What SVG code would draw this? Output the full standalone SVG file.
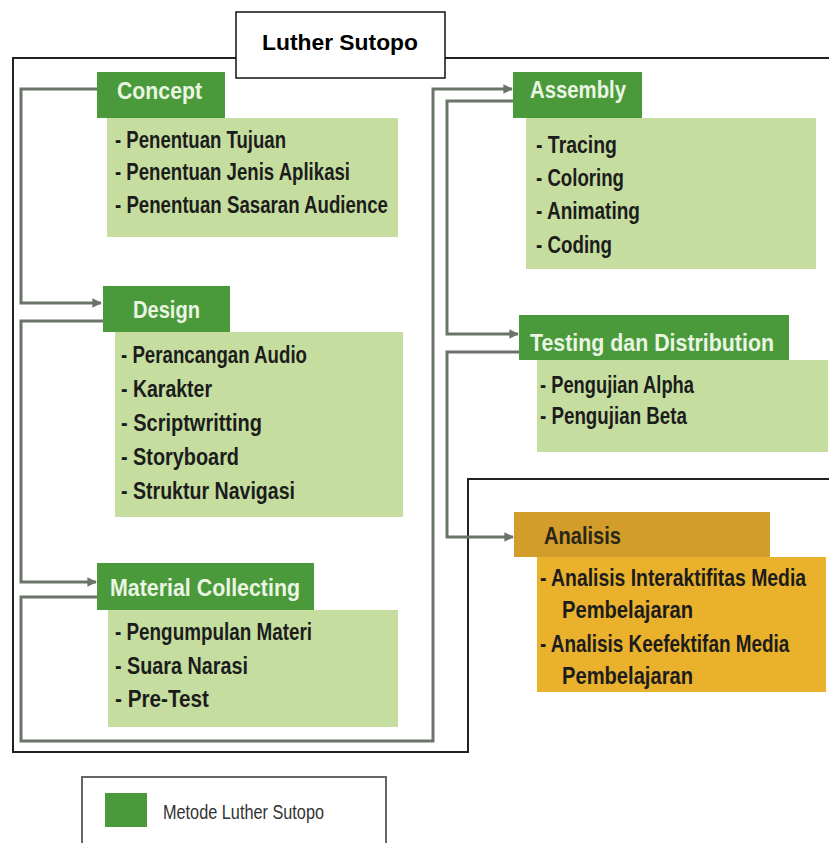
<svg xmlns="http://www.w3.org/2000/svg" width="829" height="843" viewBox="0 0 829 843">
<defs>
<marker id="arr" viewBox="0 0 10 10" refX="9" refY="5" markerWidth="3.2" markerHeight="3.2" orient="auto" markerUnits="strokeWidth">
<path d="M0,0 L10,5 L0,10 z" fill="#6a7468"/>
</marker>
<style>
.hd{fill:#4a9a3c}
.bd{fill:#c5de9f}
.ht{font-family:"Liberation Sans",Arial,sans-serif;font-weight:bold;font-size:24px;fill:#eaf5e2}
.bt{font-family:"Liberation Sans",Arial,sans-serif;font-weight:bold;font-size:23px;fill:#1c1c1c}
.con{fill:none;stroke:#6a7468;stroke-width:3}
.frame{fill:none;stroke:#222;stroke-width:2}
</style>
</defs>
<rect width="829" height="843" fill="#fff"/>
<path class="frame" d="M829,58 H13 V752 H468 V479 H829"/>
<g id="title">
<rect x="236" y="12" width="209" height="66" fill="#fff" stroke="#111" stroke-width="1.5"/>
<text x="340" y="50" text-anchor="middle" style="font-family:'Liberation Sans',Arial,sans-serif;font-weight:bold;font-size:22px;fill:#000" textLength="156" lengthAdjust="spacingAndGlyphs">Luther Sutopo</text>
</g>
<g id="connectors">
<path class="con" d="M97,89 H21 V303 H101" marker-end="url(#arr)"/>
<path class="con" d="M103,321 H21 V582 H96" marker-end="url(#arr)"/>
<path class="con" d="M97,597 H21 V741 H433 V89 H512" marker-end="url(#arr)"/>
<path class="con" d="M513,101 H447 V334 H518" marker-end="url(#arr)"/>
<path class="con" d="M519,352 H447 V537 H513" stroke-width="2.2" marker-end="url(#arr)"/>
</g>
<g id="concept">
<rect class="bd" x="107" y="118" width="291" height="119"/>
<rect class="hd" x="97" y="72" width="128" height="46"/>
<text class="ht" x="117" y="99" textLength="85" lengthAdjust="spacingAndGlyphs">Concept</text>
<text class="bt" x="115" y="148" textLength="171" lengthAdjust="spacingAndGlyphs">- Penentuan Tujuan</text>
<text class="bt" x="115" y="180" textLength="235" lengthAdjust="spacingAndGlyphs">- Penentuan Jenis Aplikasi</text>
<text class="bt" x="115" y="213" textLength="273" lengthAdjust="spacingAndGlyphs">- Penentuan Sasaran Audience</text>
</g>
<g id="design">
<rect class="bd" x="115" y="332" width="288" height="185"/>
<rect class="hd" x="103" y="286" width="127" height="46"/>
<text class="ht" x="133" y="318" textLength="67" lengthAdjust="spacingAndGlyphs">Design</text>
<text class="bt" x="121" y="363" textLength="186" lengthAdjust="spacingAndGlyphs">- Perancangan Audio</text>
<text class="bt" x="121" y="397" textLength="91" lengthAdjust="spacingAndGlyphs">- Karakter</text>
<text class="bt" x="121" y="431" textLength="141" lengthAdjust="spacingAndGlyphs">- Scriptwritting</text>
<text class="bt" x="121" y="465" textLength="118" lengthAdjust="spacingAndGlyphs">- Storyboard</text>
<text class="bt" x="121" y="499" textLength="174" lengthAdjust="spacingAndGlyphs">- Struktur Navigasi</text>
</g>
<g id="material">
<rect class="bd" x="108" y="610" width="290" height="117"/>
<rect class="hd" x="97" y="563" width="217" height="47"/>
<text class="ht" x="110" y="596" textLength="190" lengthAdjust="spacingAndGlyphs">Material Collecting</text>
<text class="bt" x="115" y="640" textLength="197" lengthAdjust="spacingAndGlyphs">- Pengumpulan Materi</text>
<text class="bt" x="115" y="674" textLength="133" lengthAdjust="spacingAndGlyphs">- Suara Narasi</text>
<text class="bt" x="115" y="707" textLength="94" lengthAdjust="spacingAndGlyphs">- Pre-Test</text>
</g>
<g id="assembly">
<rect class="bd" x="526" y="118" width="290" height="151"/>
<rect class="hd" x="513" y="72" width="129" height="46"/>
<text class="ht" x="530" y="98" textLength="96" lengthAdjust="spacingAndGlyphs">Assembly</text>
<text class="bt" x="536" y="153" textLength="81" lengthAdjust="spacingAndGlyphs">- Tracing</text>
<text class="bt" x="536" y="186" textLength="88" lengthAdjust="spacingAndGlyphs">- Coloring</text>
<text class="bt" x="536" y="219" textLength="104" lengthAdjust="spacingAndGlyphs">- Animating</text>
<text class="bt" x="536" y="253" textLength="76" lengthAdjust="spacingAndGlyphs">- Coding</text>
</g>
<g id="testing">
<rect class="bd" x="537" y="360" width="291" height="92"/>
<rect class="hd" x="519" y="315" width="270" height="45"/>
<text class="ht" x="530" y="351" textLength="244" lengthAdjust="spacingAndGlyphs">Testing dan Distribution</text>
<text class="bt" x="540" y="393" textLength="154" lengthAdjust="spacingAndGlyphs">- Pengujian Alpha</text>
<text class="bt" x="540" y="424" textLength="147" lengthAdjust="spacingAndGlyphs">- Pengujian Beta</text>
</g>
<g id="analisis">
<rect x="537" y="557" width="289" height="135" fill="#e9b12c"/>
<rect x="514" y="512" width="256" height="45" fill="#d29d2a"/>
<text class="ht" x="544" y="544" style="fill:#2a2716" textLength="77" lengthAdjust="spacingAndGlyphs">Analisis</text>
<text class="bt" transform="translate(540,586) scale(0.842,1)">- Analisis Interaktifitas Media</text>
<text class="bt" x="562" y="618" textLength="131" lengthAdjust="spacingAndGlyphs">Pembelajaran</text>
<text class="bt" transform="translate(540,652) scale(0.822,1)">- Analisis Keefektifan Media</text>
<text class="bt" x="562" y="684" textLength="131" lengthAdjust="spacingAndGlyphs">Pembelajaran</text>
</g>
<g id="legend">
<rect x="82" y="777" width="304" height="90" fill="#fff" stroke="#666" stroke-width="2"/>
<rect x="105" y="793" width="42" height="34" fill="#4a9a3c"/>
<text x="163" y="819" style="font-family:'Liberation Sans',Arial,sans-serif;font-size:21px;fill:#333" textLength="161" lengthAdjust="spacingAndGlyphs">Metode Luther Sutopo</text>
</g>
</svg>
